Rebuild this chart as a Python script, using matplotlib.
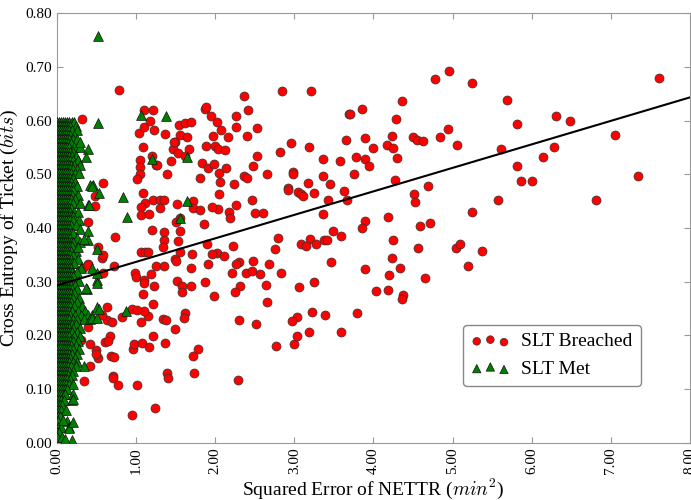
import numpy as np
import matplotlib
matplotlib.use('Agg')
import matplotlib.pyplot as plt
from matplotlib.ticker import FormatStrFormatter

plt.rcParams['font.family'] = ['Liberation Serif', 'DejaVu Serif']
plt.rcParams['mathtext.fontset'] = 'cm'

# SLT Breached (x = squared error, y = cross entropy)
breached = [
    (0.79, 0.658), (0.32, 0.603), (1.10, 0.620), (1.22, 0.620), (1.035, 0.577),
    (1.106, 0.589), (1.18, 0.599), (1.225, 0.582), (1.09, 0.551), (1.05, 0.527),
    (1.05, 0.513), (1.055, 0.501), (1.02, 0.491), (1.085, 0.466), (1.12, 0.446),
    (1.07, 0.440), (1.065, 0.424), (1.17, 0.427), (1.22, 0.453), (1.20, 0.535),
    (1.25, 0.517), (1.27, 0.517), (1.39, 0.500), (1.37, 0.576), (1.44, 0.524),
    (1.47, 0.548), (1.49, 0.560), (1.545, 0.592), (1.56, 0.574), (1.64, 0.570),
    (1.62, 0.596), (1.69, 0.597), (1.67, 0.547), (1.53, 0.539), (1.615, 0.534),
    (1.485, 0.561), (1.31, 0.453), (1.35, 0.453), (1.31, 0.437), (1.52, 0.444),
    (1.72, 0.450), (1.72, 0.437), (1.81, 0.494), (1.83, 0.522), (1.87, 0.622),
    (1.89, 0.625), (1.95, 0.609), (2.02, 0.598), (2.08, 0.582), (1.97, 0.571),
    (1.89, 0.553), (2.00, 0.553), (2.04, 0.547), (2.13, 0.545), (2.16, 0.569),
    (2.27, 0.589), (2.27, 0.609), (2.37, 0.645), (2.42, 0.619), (2.40, 0.571),
    (2.53, 0.586), (1.91, 0.512), (1.99, 0.519), (2.05, 0.502), (2.06, 0.486),
    (2.05, 0.464), (2.14, 0.512), (2.24, 0.482), (2.36, 0.497), (2.40, 0.494),
    (2.48, 0.515), (2.53, 0.535), (2.47, 0.453), (2.27, 0.443), (2.18, 0.430),
    (2.19, 0.419), (1.86, 0.407), (1.81, 0.434), (2.04, 0.435), (1.96, 0.440),
    (1.20, 0.396), (1.35, 0.393), (1.36, 0.378), (1.53, 0.376), (1.56, 0.394),
    (1.51, 0.412), (1.56, 0.419), (1.07, 0.356), (1.12, 0.356), (1.15, 0.356),
    (1.34, 0.365), (1.90, 0.370), (2.23, 0.367), (2.50, 0.428), (2.65, 0.501),
    (2.60, 0.428), (2.84, 0.656), (3.21, 0.655), (2.82, 0.542), (2.96, 0.559),
    (2.98, 0.504), (2.99, 0.500), (2.92, 0.474), (2.92, 0.470), (3.18, 0.484),
    (3.05, 0.467), (3.09, 0.463), (3.11, 0.460), (3.25, 0.465), (3.19, 0.550),
    (3.36, 0.528), (3.36, 0.497), (3.43, 0.453), (3.45, 0.482), (3.58, 0.525),
    (3.63, 0.469), (3.67, 0.452), (3.66, 0.564), (3.69, 0.612), (3.36, 0.427),
    (3.49, 0.394), (3.59, 0.386), (3.38, 0.378), (3.41, 0.378), (3.20, 0.379),
    (3.08, 0.370), (3.15, 0.366), (3.28, 0.370), (2.80, 0.381), (2.76, 0.361),
    (2.02, 0.353), (1.56, 0.355), (1.50, 0.343),
    (0.74, 0.384), (0.39, 0.412), (0.48, 0.441), (0.585, 0.483), (0.48, 0.459),
    (0.525, 0.365), (0.57, 0.344), (0.40, 0.333), (0.33, 0.326),
    (4.78, 0.678), (4.95, 0.692), (5.24, 0.671), (7.61, 0.679), (4.36, 0.637),
    (5.69, 0.638), (3.85, 0.622), (3.71, 0.612), (4.28, 0.604), (5.81, 0.594),
    (6.31, 0.609), (6.49, 0.599), (3.90, 0.568), (4.24, 0.571), (4.50, 0.569),
    (4.55, 0.564), (4.63, 0.562), (4.84, 0.570), (4.94, 0.584), (5.05, 0.554),
    (4.17, 0.555), (4.25, 0.549), (3.99, 0.549), (3.78, 0.532), (3.90, 0.529),
    (4.30, 0.530), (3.95, 0.516), (3.76, 0.500), (4.27, 0.489), (4.51, 0.464),
    (4.52, 0.448), (4.69, 0.479), (5.61, 0.548), (5.82, 0.515), (5.87, 0.488),
    (6.01, 0.488), (6.14, 0.533), (6.28, 0.550), (7.05, 0.573), (7.34, 0.496),
    (6.81, 0.453), (5.57, 0.453), (5.25, 0.429), (4.19, 0.420), (3.90, 0.413),
    (3.85, 0.400), (4.59, 0.404), (4.72, 0.409), (4.25, 0.378), (4.56, 0.362),
    (5.04, 0.363), (5.10, 0.371), (5.37, 0.357), (4.23, 0.345),
    (3.89, 0.324), (4.33, 0.325), (4.20, 0.312), (5.19, 0.329), (4.65, 0.307),
    (4.03, 0.283), (4.19, 0.284), (4.37, 0.275), (4.36, 0.267), (3.79, 0.242),
    (3.59, 0.207),
    (1.71, 0.352), (1.96, 0.352), (2.11, 0.348), (1.51, 0.339), (1.25, 0.330),
    (1.35, 0.330), (1.91, 0.333), (1.70, 0.325), (0.99, 0.317), (1.005, 0.308),
    (1.19, 0.314), (1.10, 0.304), (1.10, 0.298), (0.72, 0.329), (0.59, 0.317),
    (1.52, 0.301), (1.58, 0.292), (1.58, 0.281), (1.69, 0.292), (1.87, 0.299),
    (1.99, 0.274), (1.23, 0.292), (1.085, 0.277), (1.21, 0.258), (2.22, 0.317),
    (2.30, 0.337), (2.26, 0.333), (2.48, 0.338), (2.39, 0.317), (2.47, 0.319),
    (2.57, 0.314), (2.83, 0.317), (2.68, 0.332), (2.64, 0.294), (2.32, 0.292),
    (2.25, 0.281), (2.66, 0.262), (3.06, 0.291), (3.25, 0.299), (3.46, 0.337),
    (3.23, 0.243), (3.39, 0.237), (3.04, 0.235), (2.975, 0.227), (3.19, 0.207),
    (3.00, 0.183), (3.03, 0.199), (2.77, 0.181), (2.52, 0.221), (2.30, 0.229),
    (2.29, 0.117), (1.62, 0.242), (1.61, 0.233), (1.50, 0.211), (1.34, 0.230),
    (1.38, 0.229), (1.37, 0.186), (1.78, 0.175), (1.72, 0.161), (1.73, 0.129),
    (1.39, 0.130), (1.40, 0.121), (1.245, 0.065), (0.95, 0.052), (1.02, 0.108),
    (0.96, 0.174), (0.98, 0.184), (1.08, 0.186), (1.21, 0.199), (1.15, 0.236),
    (1.10, 0.245), (1.07, 0.224), (0.955, 0.250), (1.02, 0.248), (0.82, 0.234),
    (0.64, 0.253), (0.64, 0.229), (0.70, 0.224), (0.67, 0.199), (0.61, 0.188),
    (0.65, 0.189), (0.68, 0.162), (0.72, 0.160), (0.715, 0.125), (0.715, 0.120),
    (0.775, 0.108), (0.50, 0.173), (0.525, 0.157), (0.50, 0.165), (0.42, 0.183),
    (0.42, 0.142), (0.35, 0.115), (0.395, 0.216), (0.57, 0.238), (0.59, 0.350),
    (0.31, 0.191), (1.16, 0.178), (0.40, 0.331),
]

# SLT Met: scattered triangles outside the main block
met_outliers = [
    (0.525, 0.758), (0.525, 0.595), (1.07, 0.611), (1.375, 0.609), (1.20, 0.529),
    (1.64, 0.533), (1.64, 0.451), (1.56, 0.419), (0.84, 0.458), (0.89, 0.421),
    (0.42, 0.480), (0.46, 0.480), (0.54, 0.466), (0.40, 0.443), (0.505, 0.361),
    (0.40, 0.394), (0.39, 0.377), (0.34, 0.380), (0.27, 0.365), (0.505, 0.303),
    (0.505, 0.298), (0.38, 0.286), (0.505, 0.252), (0.87, 0.246), (0.44, 0.232),
    (0.505, 0.232), (0.45, 0.478), (0.41, 0.442), (0.44, 0.325), (0.505, 0.316),
    (0.37, 0.288), (0.53, 0.250), (0.35, 0.142), (0.20, 0.081), (0.15, 0.027),
    (0.21, 0.039), (0.08, 0.042), (0.19, 0.005), (0.10, 0.006), (0.39, 0.547),
    (0.37, 0.533), (0.295, 0.561),
]

# SLT Met: the dense block near zero error, row by row (y level -> x values)
met_levels = [
    0.598, 0.590, 0.582, 0.574, 0.566, 0.558, 0.550, 0.542, 0.534, 0.526,
    0.518, 0.510, 0.502, 0.494, 0.486, 0.478, 0.470, 0.462, 0.454, 0.446,
    0.438, 0.430, 0.422, 0.414, 0.406, 0.398, 0.390, 0.382, 0.374, 0.366,
    0.358, 0.350, 0.342, 0.334, 0.326, 0.318, 0.310, 0.302, 0.294, 0.286,
    0.278, 0.270, 0.262, 0.254, 0.246, 0.238, 0.230, 0.222, 0.214, 0.206,
    0.198, 0.190, 0.182, 0.174, 0.166, 0.158, 0.150, 0.142, 0.134, 0.126,
    0.118, 0.110, 0.100, 0.090, 0.080, 0.070, 0.060, 0.050, 0.040, 0.030,
    0.020, 0.010,
]
met_xs = [
    [0.00, 0.03, 0.055, 0.08, 0.105, 0.13, 0.16, 0.19, 0.22],
    [0.015, 0.04, 0.065, 0.09, 0.115, 0.14, 0.17, 0.24],
    [0.00, 0.03, 0.055, 0.08, 0.105, 0.13, 0.155, 0.19, 0.26],
    [0.015, 0.04, 0.065, 0.09, 0.115, 0.14, 0.165, 0.22],
    [0.00, 0.03, 0.055, 0.08, 0.105, 0.13, 0.155, 0.20, 0.25],
    [0.015, 0.04, 0.065, 0.09, 0.115, 0.14, 0.18],
    [0.00, 0.03, 0.055, 0.08, 0.105, 0.13, 0.155, 0.22, 0.30],
    [0.015, 0.04, 0.065, 0.09, 0.115, 0.14, 0.17, 0.20],
    [0.00, 0.03, 0.055, 0.08, 0.105, 0.13, 0.155, 0.19, 0.24],
    [0.015, 0.04, 0.065, 0.09, 0.115, 0.14, 0.17, 0.21, 0.27],
    [0.00, 0.03, 0.055, 0.08, 0.105, 0.13, 0.155, 0.18, 0.22, 0.30],
    [0.015, 0.04, 0.065, 0.09, 0.115, 0.14, 0.165, 0.20, 0.25],
    [0.00, 0.03, 0.055, 0.08, 0.105, 0.13, 0.155, 0.18, 0.23, 0.28],
    [0.015, 0.04, 0.065, 0.09, 0.115, 0.14, 0.165, 0.20],
    [0.00, 0.03, 0.055, 0.08, 0.105, 0.13, 0.155, 0.18, 0.23],
    [0.015, 0.04, 0.065, 0.09, 0.115, 0.14, 0.17, 0.20, 0.26],
    [0.00, 0.03, 0.055, 0.08, 0.105, 0.13, 0.155, 0.18, 0.21],
    [0.015, 0.04, 0.065, 0.09, 0.115, 0.14, 0.165, 0.19, 0.27],
    [0.00, 0.03, 0.055, 0.08, 0.105, 0.13, 0.155, 0.18, 0.23],
    [0.015, 0.04, 0.065, 0.09, 0.115, 0.14, 0.165, 0.20, 0.30],
    [0.00, 0.03, 0.055, 0.08, 0.105, 0.13, 0.155, 0.18],
    [0.015, 0.04, 0.065, 0.09, 0.115, 0.14, 0.165, 0.22, 0.27],
    [0.00, 0.03, 0.055, 0.08, 0.105, 0.13, 0.155, 0.18, 0.20],
    [0.015, 0.04, 0.065, 0.09, 0.115, 0.14, 0.165, 0.21, 0.28],
    [0.00, 0.03, 0.055, 0.08, 0.105, 0.13, 0.155, 0.18, 0.24],
    [0.015, 0.04, 0.065, 0.09, 0.115, 0.14, 0.17, 0.30],
    [0.00, 0.03, 0.055, 0.08, 0.105, 0.13, 0.155, 0.18, 0.20],
    [0.015, 0.04, 0.065, 0.09, 0.115, 0.14, 0.165, 0.25],
    [0.00, 0.03, 0.055, 0.08, 0.105, 0.13, 0.155, 0.18, 0.21, 0.29],
    [0.015, 0.04, 0.065, 0.09, 0.115, 0.14, 0.165, 0.19],
    [0.00, 0.03, 0.055, 0.08, 0.105, 0.13, 0.155, 0.18, 0.24],
    [0.015, 0.04, 0.065, 0.09, 0.115, 0.14, 0.165, 0.20],
    [0.00, 0.03, 0.055, 0.08, 0.105, 0.13, 0.155, 0.18, 0.27],
    [0.015, 0.04, 0.065, 0.09, 0.115, 0.14, 0.165, 0.19, 0.22],
    [0.00, 0.03, 0.055, 0.08, 0.105, 0.13, 0.155, 0.18, 0.31],
    [0.015, 0.04, 0.065, 0.09, 0.115, 0.14, 0.165, 0.19, 0.25],
    [0.00, 0.03, 0.055, 0.08, 0.105, 0.13, 0.155, 0.18, 0.21],
    [0.015, 0.04, 0.065, 0.09, 0.115, 0.14, 0.165, 0.19, 0.28],
    [0.00, 0.03, 0.055, 0.08, 0.105, 0.13, 0.155, 0.18, 0.23],
    [0.015, 0.04, 0.065, 0.09, 0.115, 0.14, 0.165, 0.19, 0.26],
    [0.00, 0.03, 0.055, 0.08, 0.105, 0.13, 0.155, 0.18, 0.22],
    [0.015, 0.04, 0.065, 0.09, 0.115, 0.14, 0.165, 0.20, 0.28],
    [0.00, 0.03, 0.055, 0.08, 0.105, 0.13, 0.155, 0.18, 0.25],
    [0.015, 0.04, 0.065, 0.09, 0.115, 0.14, 0.165, 0.22, 0.32],
    [0.00, 0.03, 0.055, 0.08, 0.105, 0.13, 0.155, 0.19, 0.27, 0.36],
    [0.015, 0.04, 0.065, 0.09, 0.115, 0.14, 0.17, 0.23, 0.31, 0.40, 0.45],
    [0.00, 0.03, 0.055, 0.08, 0.105, 0.13, 0.155, 0.20, 0.26, 0.35, 0.42],
    [0.015, 0.04, 0.065, 0.09, 0.115, 0.14, 0.165, 0.19, 0.24],
    [0.00, 0.03, 0.055, 0.08, 0.105, 0.13, 0.155, 0.21, 0.29],
    [0.015, 0.04, 0.065, 0.09, 0.115, 0.14, 0.165, 0.19, 0.25],
    [0.00, 0.03, 0.055, 0.08, 0.105, 0.13, 0.155, 0.22, 0.30],
    [0.015, 0.04, 0.065, 0.09, 0.115, 0.14, 0.165, 0.20, 0.27],
    [0.00, 0.03, 0.055, 0.08, 0.105, 0.13, 0.155, 0.18, 0.24],
    [0.015, 0.04, 0.065, 0.09, 0.115, 0.14, 0.165, 0.21, 0.28],
    [0.00, 0.03, 0.055, 0.08, 0.105, 0.13, 0.155, 0.19, 0.25],
    [0.015, 0.04, 0.065, 0.09, 0.115, 0.14, 0.17, 0.23],
    [0.00, 0.03, 0.055, 0.08, 0.105, 0.13, 0.155, 0.20, 0.26],
    [0.015, 0.04, 0.065, 0.09, 0.115, 0.14, 0.18, 0.24],
    [0.00, 0.03, 0.055, 0.08, 0.105, 0.13, 0.16, 0.21],
    [0.015, 0.04, 0.065, 0.09, 0.115, 0.14, 0.19],
    [0.00, 0.03, 0.055, 0.08, 0.105, 0.13, 0.17],
    [0.015, 0.04, 0.065, 0.09, 0.12, 0.15, 0.21],
    [0.00, 0.03, 0.055, 0.08, 0.11, 0.13],
    [0.015, 0.04, 0.065, 0.09, 0.11, 0.20],
    [0.00, 0.03, 0.06, 0.09, 0.19],
    [0.02, 0.045, 0.07],
    [0.00, 0.03, 0.05, 0.12],
    [0.01, 0.035],
    [0.00, 0.02, 0.13],
    [0.01, 0.05, 0.15],
    [0.00, 0.025],
    [0.00, 0.07],
]

# fitted line
fit_intercept = 0.293
fit_slope = 0.0438

x_ticks = [0, 1, 2, 3, 4, 5, 6, 7, 8]
y_ticks = [0.0, 0.1, 0.2, 0.3, 0.4, 0.5, 0.6, 0.7, 0.8]

b = np.array(breached)
met_block = [(x, y) for y, xs in zip(met_levels, met_xs) for x in xs]
m = np.array(met_block + met_outliers)

fig = plt.figure(figsize=(6.91, 5.0), dpi=100)
ax = fig.add_axes([0.0821, 0.1146, 0.9165, 0.8588])

ax.scatter(b[:, 0], b[:, 1], s=42, c='#ff0000', marker='o',
           edgecolors='#333333', linewidths=0.5, label='SLT Breached', zorder=2)
ax.scatter(m[:, 0], m[:, 1], s=50, c='#008000', marker='^',
           edgecolors='#111111', linewidths=0.5, label='SLT Met', zorder=3)

xl = np.array([0, 8])
ax.plot(xl, fit_intercept + fit_slope * xl, color='black', lw=1.5, zorder=4)

ax.set_xlim(0, 8)
ax.set_ylim(0, 0.8)
ax.set_xticks(x_ticks)
ax.set_yticks(y_ticks)
ax.xaxis.set_major_formatter(FormatStrFormatter('%.2f'))
ax.yaxis.set_major_formatter(FormatStrFormatter('%.2f'))
ax.tick_params(axis='both', direction='in', top=True, right=True, length=4,
               color='#999999', labelsize=11)
ax.tick_params(axis='x', labelrotation=90)
for sp in ax.spines.values():
    sp.set_color('#999999')

ax.set_xlabel('Squared Error of NETTR ($min^2$)', fontsize=14, labelpad=2)
ax.set_ylabel('Cross Entropy of Ticket ($bits$)', fontsize=14, labelpad=4)

leg = ax.legend(loc='upper right', bbox_to_anchor=(0.922, 0.274), borderaxespad=0,
                scatterpoints=3, markerscale=0.85, fontsize=14, fancybox=True,
                framealpha=1, borderpad=0.4, handletextpad=0.6)
leg.get_frame().set_edgecolor('#888888')

fig.savefig('out.png', dpi=100)
